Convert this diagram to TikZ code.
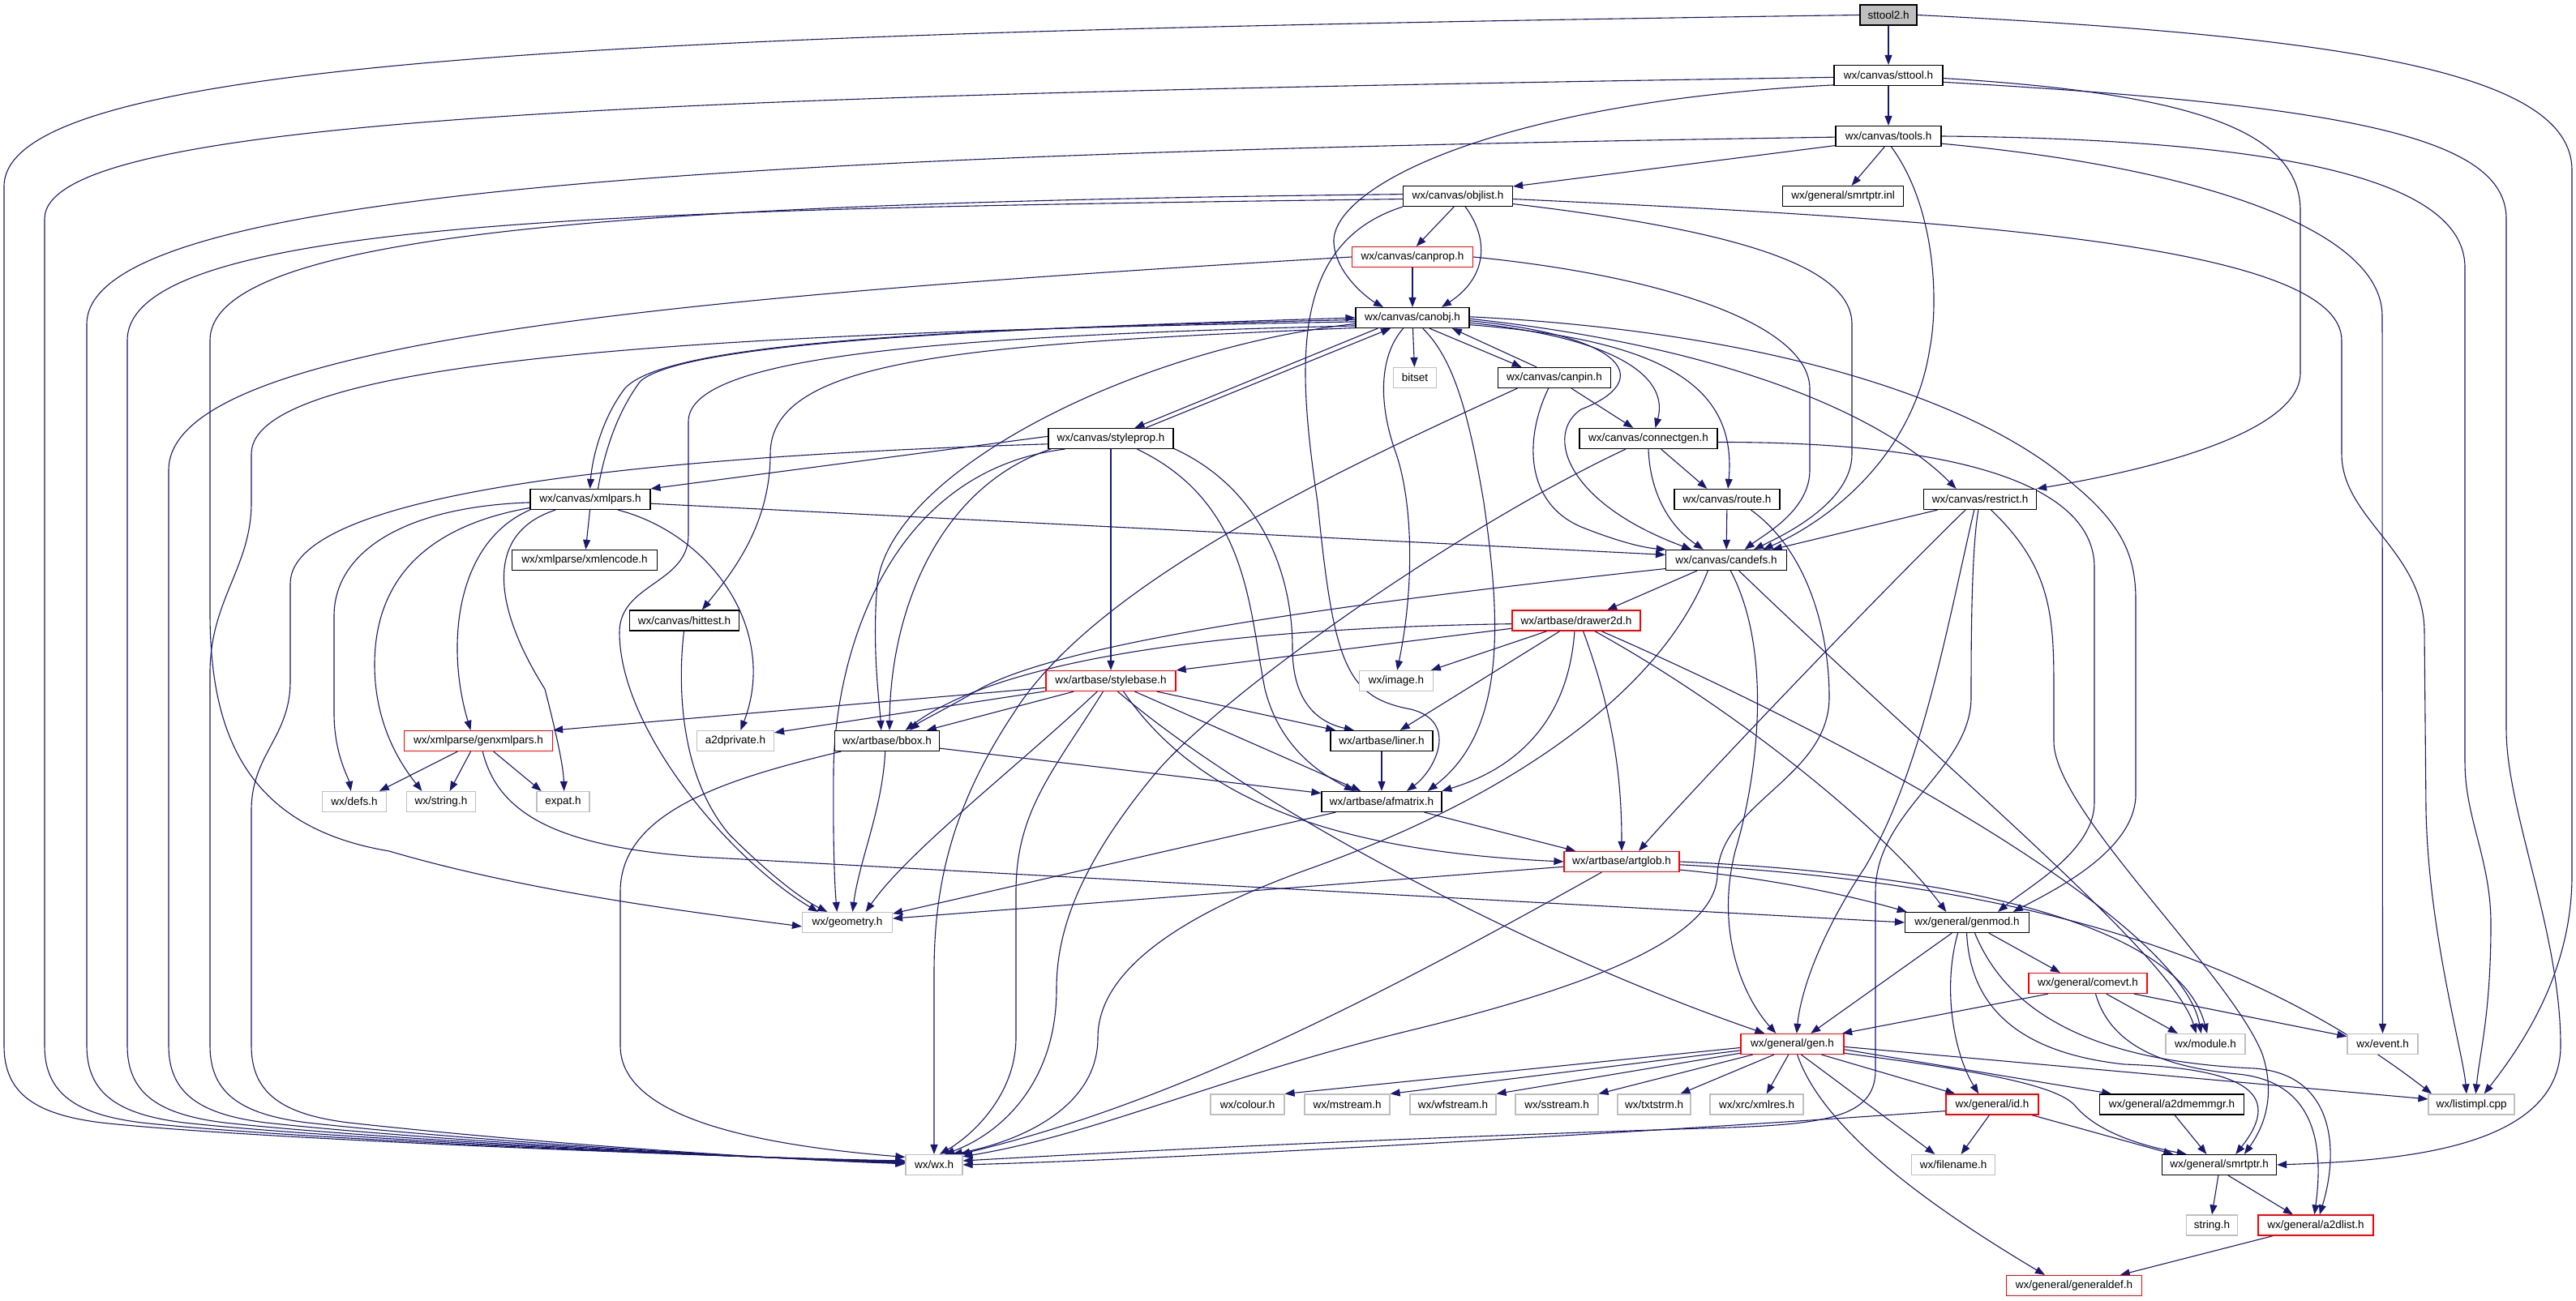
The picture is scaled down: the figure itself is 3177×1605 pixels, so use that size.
\documentclass[tikz,border=0pt]{standalone}
\usepackage{fontspec}
\setmainfont{Liberation Sans}
\usetikzlibrary{arrows.meta,backgrounds}
\definecolor{ec}{HTML}{191970}
\definecolor{gr}{HTML}{BFBFBF}
\newcommand\labfont{\fontsize{13.5}{16}\selectfont}
\begin{document}
\begin{tikzpicture}[x=1pt,y=-1pt,
  nd/.style={draw=black, line width=1.2pt, fill=white, minimum height=25pt, inner sep=0pt, font=\labfont},
  nr/.style={nd, draw=red},
  ng/.style={nd, draw=gr},
  e/.style={draw=ec, line width=1.1pt, -{Triangle[length=12pt,width=9pt]}}]
\useasboundingbox (0,0) rectangle (3177,1605);
% nodes
\node[nd,fill=gr,minimum width=70pt] (sttooltwo) at (2329,18.5) {sttool2.h};
\node[nd,minimum width=134pt] (sttool) at (2329,93) {wx/canvas/sttool.h};
\node[nd,minimum width=130pt] (tools) at (2329,168) {wx/canvas/tools.h};
\node[nd,minimum width=149pt] (smrtinl) at (2273,242) {wx/general/smrtptr.inl};
\node[nd,minimum width=135pt] (objlist) at (1798,242) {wx/canvas/objlist.h};
\node[nr,minimum width=149pt] (canprop) at (1742,317) {wx/canvas/canprop.h};
\node[nd,minimum width=140pt] (canobj) at (1742,392) {wx/canvas/canobj.h};
\node[ng,minimum width=53pt] (bitset) at (1745,466) {bitset};
\node[nd,minimum width=139pt] (canpin) at (1917,466) {wx/canvas/canpin.h};
\node[nd,minimum width=154pt] (styleprop) at (1370,541) {wx/canvas/styleprop.h};
\node[nd,minimum width=170pt] (connectgen) at (2033,541) {wx/canvas/connectgen.h};
\node[nd,minimum width=130pt] (route) at (2130,616) {wx/canvas/route.h};
\node[nd,minimum width=139pt] (restrict) at (2442,616) {wx/canvas/restrict.h};
\node[nd,minimum width=148pt] (xmlpars) at (728,616) {wx/canvas/xmlpars.h};
\node[nd,minimum width=149pt] (candefs) at (2129,691) {wx/canvas/candefs.h};
\node[nd,minimum width=179pt] (xmlencode) at (721,691) {wx/xmlparse/xmlencode.h};
\node[nd,minimum width=135pt] (hittest) at (844,765.5) {wx/canvas/hittest.h};
\node[nr,minimum width=158pt] (drawer2d) at (1944,765.5) {wx/artbase/drawer2d.h};
\node[nr,minimum width=160pt] (stylebase) at (1370,840) {wx/artbase/stylebase.h};
\node[ng,minimum width=91pt] (image) at (1722,840) {wx/image.h};
\node[nr,minimum width=183pt] (genxmlpars) at (590,914) {wx/xmlparse/genxmlpars.h};
\node[ng,minimum width=95pt] (a2dprivate) at (907,914) {a2dprivate.h};
\node[nd,minimum width=129pt] (bbox) at (1094,914) {wx/artbase/bbox.h};
\node[nd,minimum width=126pt] (liner) at (1704,914) {wx/artbase/liner.h};
\node[ng,minimum width=79pt] (defs) at (437,989) {wx/defs.h};
\node[ng,minimum width=85pt] (wxstring) at (544,989) {wx/string.h};
\node[ng,minimum width=65pt] (expat) at (694.5,989) {expat.h};
\node[nd,minimum width=148pt] (afmatrix) at (1704,989) {wx/artbase/afmatrix.h};
\node[nr,minimum width=142pt] (artglob) at (2000,1063) {wx/artbase/artglob.h};
\node[ng,minimum width=111pt] (geometry) at (1045,1138) {wx/geometry.h};
\node[nd,minimum width=153pt] (genmod) at (2426,1138) {wx/general/genmod.h};
\node[nr,minimum width=146pt] (comevt) at (2575,1213) {wx/general/comevt.h};
\node[nr,minimum width=127pt] (gen) at (2210.5,1288) {wx/general/gen.h};
\node[ng,minimum width=98pt] (module) at (2720,1288) {wx/module.h};
\node[ng,minimum width=87pt] (event) at (2938.5,1288) {wx/event.h};
\node[ng,minimum width=91pt] (colour) at (1538.5,1362.5) {wx/colour.h};
\node[ng,minimum width=105pt] (mstream) at (1661.5,1362.5) {wx/mstream.h};
\node[ng,minimum width=106pt] (wfstream) at (1792,1362.5) {wx/wfstream.h};
\node[ng,minimum width=102pt] (sstream) at (1920,1362.5) {wx/sstream.h};
\node[ng,minimum width=90pt] (txtstrm) at (2040,1362.5) {wx/txtstrm.h};
\node[ng,minimum width=115pt] (xmlres) at (2166.5,1362.5) {wx/xrc/xmlres.h};
\node[nr,minimum width=114pt] (id) at (2457,1362.5) {wx/general/id.h};
\node[nd,minimum width=178pt] (a2dmemmgr) at (2678.5,1362.5) {wx/general/a2dmemmgr.h};
\node[ng,minimum width=106pt] (listimpl) at (3048,1362.5) {wx/listimpl.cpp};
\node[ng,minimum width=70pt] (wx) at (1152,1437) {wx/wx.h};
\node[ng,minimum width=103pt] (filename) at (2409,1437) {wx/filename.h};
\node[nd,minimum width=141pt] (smrtptr) at (2737,1437) {wx/general/smrtptr.h};
\node[ng,minimum width=63pt] (stringh) at (2728,1511.5) {string.h};
\node[nr,minimum width=142pt] (a2dlist) at (2856,1511.5) {wx/general/a2dlist.h};
\node[nr,minimum width=167pt] (generaldef) at (2558,1586) {wx/general/generaldef.h};

\begin{pgfonlayer}{background}
\fill[white] (0,0) rectangle (3177,1605);
% sttool2.h
\draw[e] (sttooltwo) -- (sttool);
\draw[e] (sttooltwo.180) .. controls (800,40) and (5,70) .. (5,230) -- (5,1290) .. controls (5,1350) and (45,1375) .. (125,1385) .. controls (305,1405) and (900,1428) .. (wx.172);
\draw[e] (sttooltwo.east) .. controls (2900,45) and (3172,90) .. (3172,210) -- (3172,1080) .. controls (3172,1200) and (3110,1290) .. (listimpl.40);
% sttool.h
\draw[e] (sttool) -- (tools);
\draw[e] (sttool.182) .. controls (800,118) and (55,145) .. (55,270) -- (55,1290) .. controls (55,1350) and (95,1375) .. (175,1385) .. controls (355,1405) and (900,1428) .. (wx.173);
\draw[e] (sttool.190) .. controls (1850,125) and (1640,230) .. (1645,300) .. controls (1648,340) and (1690,370) .. (canobj.160);
\draw[e] (sttool.-3) .. controls (2700,115) and (2837,160) .. (2837,260) -- (2837,460) .. controls (2837,540) and (2620,585) .. (restrict.north east);
\draw[e] (sttool.-7) .. controls (2900,130) and (3091,170) .. (3091,270) -- (3091,900) .. controls (3091,1000) and (3158,1150) .. (3158,1290) .. controls (3158,1420) and (2950,1432) .. (smrtptr.east);
% tools.h
\draw[e] (tools.190) -- (objlist.10);
\draw[e] (tools.-110) -- (smrtinl.51);
\draw[e] (tools.181) .. controls (900,190) and (107,235) .. (107,400) -- (107,1290) .. controls (107,1350) and (147,1375) .. (227,1385) .. controls (407,1405) and (900,1428) .. (wx.174);
\draw[e] (tools.-75) .. controls (2390,260) and (2390,380) .. (2380,430) .. controls (2360,560) and (2260,640) .. (candefs.16);
\draw[e] (tools.-8) .. controls (2700,205) and (2938,280) .. (2938,390) -- (event.north);
\draw[e] (tools.0) .. controls (2850,172) and (3040,230) .. (3040,330) -- (3040,940) .. controls (3040,1010) and (3072,1060) .. (3072,1140) .. controls (3072,1250) and (3058,1300) .. (listimpl.68);
% objlist.h
\draw[e] (objlist.-110) -- (canprop.70);
\draw[e] (objlist.-55) .. controls (1840,300) and (1830,345) .. (canobj.20);
\draw[e] (objlist.183) .. controls (800,258) and (157,268) .. (157,420) -- (157,1290) .. controls (157,1350) and (197,1375) .. (277,1385) .. controls (457,1405) and (900,1428) .. (wx.175);
\draw[e] (objlist.178) .. controls (800,250) and (259,285) .. (259,420) -- (259,760) .. controls (260,900) and (300,1020) .. (480,1050) .. controls (650,1100) and (850,1125) .. (geometry.185);
\draw[e] (objlist.south west) .. controls (1590,300) and (1600,450) .. (1625,620) .. controls (1645,820) and (1660,860) .. (1740,875) .. controls (1800,890) and (1770,950) .. (afmatrix.23);
\draw[e] (objlist.-8) .. controls (2150,285) and (2284,330) .. (2284,400) -- (2284,560) .. controls (2284,620) and (2200,660) .. (candefs.21);
\draw[e] (objlist.-3) .. controls (2400,270) and (2888,300) .. (2888,420) -- (2888,560) .. controls (2888,640) and (2990,680) .. (2990,780) -- (2992,1000) .. controls (2995,1150) and (3038,1300) .. (listimpl.115);
% canprop.h
\draw[e] (canprop) -- (canobj);
\draw[e] (canprop.west) .. controls (800,368) and (208,425) .. (208,580) -- (208,1290) .. controls (208,1350) and (248,1375) .. (328,1385) .. controls (508,1405) and (900,1428) .. (wx.176);
\draw[e] (canprop.east) .. controls (2050,340) and (2232,400) .. (2232,480) -- (2232,580) .. controls (2232,630) and (2175,660) .. (candefs.30);
% canobj.h
\draw[e] (canobj.-88) -- (bitset);
\draw[e] (canobj.-32) -- (canpin.162);
\draw[e] (canobj.182) .. controls (1200,405) and (820,420) .. (770,480) .. controls (740,520) and (730,570) .. (xmlpars.92);
\draw[e] (canobj.184) .. controls (900,410) and (310,440) .. (310,560) -- (310,620) .. controls (310,700) and (259,740) .. (259,830) -- (259,1290) .. controls (259,1350) and (299,1375) .. (379,1385) .. controls (559,1405) and (900,1428) .. (wx.177);
\draw[e] (canobj.186) .. controls (1400,430) and (1100,580) .. (1082,720) .. controls (1075,800) and (1085,870) .. (bbox.119);
\draw[e] (canobj.188) .. controls (1150,415) and (849,440) .. (849,520) -- (849,660) .. controls (849,720) and (764,720) .. (764,780) .. controls (764,900) and (900,1060) .. (geometry.160);
\draw[e] (canobj.190) .. controls (1200,425) and (950,440) .. (950,560) .. controls (950,650) and (900,710) .. (hittest.31);
\draw[e] (canobj.-163) -- (styleprop.24);
\draw[e] (canobj.-131) .. controls (1700,440) and (1700,500) .. (1722,560) .. controls (1742,620) and (1745,720) .. (image.85);
\draw[e] (canobj.-46) .. controls (1790,440) and (1810,500) .. (1830,620) .. controls (1850,760) and (1860,900) .. (afmatrix.13);
\draw[e] (canobj.-5) .. controls (1980,415) and (2060,460) .. (connectgen.57);
\draw[e] (canobj.-3) .. controls (2010,415) and (2040,470) .. (1950,505) .. controls (1905,535) and (1930,620) .. (candefs.163);
\draw[e] (canobj.-7) .. controls (2060,420) and (2142,480) .. (route.85);
\draw[e] (canobj.-1) .. controls (2150,430) and (2330,520) .. (restrict.156);
\draw[e] (canobj.1) .. controls (2200,410) and (2450,500) .. (2560,600) .. controls (2620,650) and (2634,690) .. (2634,740) -- (2634,980) .. controls (2634,1050) and (2530,1100) .. (genmod.13);
% canpin.h
\draw[e] (canpin.149) -- (canobj.-15);
\draw[e] (canpin.-32) -- (connectgen.145);
\draw[e] (canpin.-119) .. controls (1880,540) and (1880,620) .. (1950,650) .. controls (2000,670) and (2030,676) .. (candefs.170);
\draw[e] (canpin.-164) .. controls (1650,580) and (1350,720) .. (1250,880) .. controls (1170,1000) and (1152,1100) .. (1152,1200) -- (wx.north);
% styleprop.h
\draw[e] (styleprop.17) -- (canobj.-154);
\draw[e] (styleprop.178) -- (xmlpars.north east);
\draw[e] (styleprop.185) .. controls (900,560) and (358,595) .. (358,720) -- (358,840) .. controls (358,910) and (310,930) .. (310,1000) -- (310,1290) .. controls (310,1350) and (350,1375) .. (430,1385) .. controls (610,1405) and (900,1428) .. (wx.178);
\draw[e] (styleprop.-170) .. controls (1160,600) and (1098,750) .. (bbox.77);
\draw[e] (styleprop.-167) .. controls (1100,580) and (1030,800) .. (1028,950) .. controls (1027,1050) and (1030,1100) .. (geometry.134);
\draw[e] (styleprop) -- (stylebase);
\draw[e] (styleprop.-22) .. controls (1540,620) and (1540,750) .. (1560,850) .. controls (1580,930) and (1640,960) .. (afmatrix.159);
\draw[e] (styleprop.-9) .. controls (1550,600) and (1594,700) .. (1594,800) .. controls (1594,860) and (1620,890) .. (liner.159);
% xmlpars.h
\draw[e] (xmlpars.54) .. controls (745,560) and (760,510) .. (790,470) .. controls (850,420) and (1250,405) .. (canobj.west);
\draw[e] (xmlpars.-92) -- (xmlencode);
\draw[e] (xmlpars.south west) .. controls (560,670) and (550,800) .. (genxmlpars.126);
\draw[e] (xmlpars.183) .. controls (500,625) and (412,680) .. (412,760) -- (412,880) .. controls (412,930) and (430,960) .. (defs.108);
\draw[e] (xmlpars.188) .. controls (520,650) and (462,720) .. (462,820) .. controls (462,900) and (500,950) .. (wxstring.151);
\draw[e] (xmlpars.-163) .. controls (590,660) and (615,760) .. (672,850) .. controls (690,920) and (695,950) .. (expat.85);
\draw[e] (xmlpars.-21) .. controls (880,660) and (960,780) .. (a2dprivate.64);
\draw[e] (xmlpars.-4) -- (candefs.175);
% hittest.h
\draw[e] (hittest.-92) .. controls (835,850) and (840,960) .. (900,1030) .. controls (950,1080) and (990,1110) .. (geometry.152);
% connectgen.h
\draw[e] (connectgen.-40) -- (route.152);
\draw[e] (connectgen.-90) .. controls (2035,610) and (2060,650) .. (candefs.155);
\draw[e] (connectgen.-155) .. controls (1800,650) and (1500,860) .. (1420,960) .. controls (1330,1070) and (1303,1150) .. (1303,1220) .. controls (1303,1340) and (1230,1400) .. (wx.45);
\draw[e] (connectgen.-3) .. controls (2420,545) and (2583,600) .. (2583,700) -- (2583,990) .. controls (2583,1050) and (2500,1095) .. (genmod.19);
% route.h
\draw[e] (route) -- (candefs);
\draw[e] (route.-24) .. controls (2230,680) and (2256,780) .. (2256,860) .. controls (2256,960) and (2120,990) .. (2118,1080) .. controls (2115,1160) and (1950,1220) .. (1736,1272) .. controls (1500,1330) and (1350,1400) .. (wx.16);
% restrict.h
\draw[e] (restrict.-166) -- (candefs.13);
\draw[e] (restrict.-144) .. controls (2330,720) and (2100,960) .. (artglob.32);
\draw[e] (restrict.-119) .. controls (2400,780) and (2370,950) .. (2300,1070) .. controls (2240,1160) and (2220,1230) .. (gen.68);
\draw[e] (restrict.-99) .. controls (2431,680) and (2431,800) .. (2431,860) .. controls (2431,950) and (2313,1000) .. (2313,1100) -- (2313,1320) .. controls (2313,1380) and (2250,1388) .. (2100,1392) .. controls (1700,1405) and (1400,1420) .. (wx.8);
\draw[e] (restrict.-44) .. controls (2530,700) and (2533,760) .. (2533,850) -- (2533,915) .. controls (2533,1000) and (2750,1200) .. (2790,1300) .. controls (2810,1360) and (2785,1400) .. (smrtptr.23);
% candefs.h
\draw[e] (candefs.-160) -- (drawer2d.19);
\draw[e] (candefs.188) .. controls (1700,740) and (1300,790) .. (1200,855) .. controls (1160,878) and (1135,890) .. (bbox.25);
\draw[e] (candefs.-68) .. controls (2185,800) and (2170,950) .. (2140,1050) .. controls (2115,1150) and (2150,1230) .. (gen.147);
\draw[e] (candefs.-40) .. controls (2400,950) and (2680,1180) .. (module.131);
\draw[e] (candefs.-150) .. controls (2050,850) and (1870,980) .. (1620,1070) .. controls (1450,1130) and (1354,1200) .. (1354,1280) .. controls (1354,1370) and (1250,1410) .. (wx.30);
% drawer2d.h
\draw[e] (drawer2d.187) -- (stylebase.north east);
\draw[e] (drawer2d.183) .. controls (1500,775) and (1230,815) .. (bbox.30);
\draw[e] (drawer2d.-160) -- (image.17);
\draw[e] (drawer2d.-147) -- (liner.30);
\draw[e] (drawer2d.-99) .. controls (1935,880) and (1880,945) .. (afmatrix.10);
\draw[e] (drawer2d.-57) .. controls (1990,880) and (2000,960) .. (artglob.90);
\draw[e] (drawer2d.-30) .. controls (2150,880) and (2330,1030) .. (genmod.153);
\draw[e] (drawer2d.-23) .. controls (2300,920) and (2690,1140) .. (module.112);
% stylebase.h
\draw[e] (stylebase.186) -- (genxmlpars.north east);
\draw[e] (stylebase.189) -- (a2dprivate.12);
\draw[e] (stylebase.-164) -- (bbox.15);
\draw[e] (stylebase.-13) -- (liner.167);
\draw[e] (stylebase.-24) -- (afmatrix.153);
\draw[e] (stylebase.-40) .. controls (1480,990) and (1650,1050) .. (artglob.west);
\draw[e] (stylebase.-57) .. controls (1550,1000) and (1900,1180) .. (gen.159);
\draw[e] (stylebase.-142) .. controls (1250,950) and (1120,1050) .. (geometry.30);
\draw[e] (stylebase.-126) .. controls (1300,950) and (1253,1000) .. (1253,1100) -- (1253,1280) .. controls (1253,1350) and (1200,1400) .. (wx.62);
% bbox.h
\draw[e] (bbox.-8) -- (afmatrix.172);
\draw[e] (bbox.-100) .. controls (1088,1000) and (1060,1060) .. (geometry.64);
\draw[e] (bbox.-167) .. controls (900,960) and (765,1000) .. (765,1100) -- (765,1290) .. controls (765,1370) and (900,1410) .. (wx.165);
% liner.h, afmatrix.h
\draw[e] (liner) -- (afmatrix);
\draw[e] (afmatrix.-14) -- (artglob.167);
\draw[e] (afmatrix.-167) -- (geometry.11);
% artglob.h
\draw[e] (artglob.-175) -- (geometry.5);
\draw[e] (artglob.-152) .. controls (1700,1230) and (1450,1360) .. (wx.22);
\draw[e] (artglob.-8) .. controls (2200,1085) and (2300,1110) .. (genmod.170);
\draw[e] (artglob.0) .. controls (2450,1080) and (2690,1150) .. (module.81);
\draw[e] (artglob.-3) .. controls (2500,1090) and (2780,1180) .. (listimpl.165);
% genxmlpars.h
\draw[e] (genxmlpars.-153) -- (defs.23);
\draw[e] (genxmlpars.-126) -- (wxstring.51);
\draw[e] (genxmlpars.-35) -- (expat.154);
\draw[e] (genxmlpars.-68) .. controls (615,1010) and (700,1045) .. (860,1057) -- (genmod.west);
% genmod.h
\draw[e] (genmod.-26) -- (comevt.159);
\draw[e] (genmod.-145) -- (gen.30);
\draw[e] (genmod.-131) .. controls (2395,1220) and (2410,1300) .. (id.142);
\draw[e] (genmod.-92) .. controls (2430,1250) and (2500,1300) .. (2620,1313) .. controls (2760,1318) and (2820,1345) .. (smrtptr.33);
\draw[e] (genmod.-54) .. controls (2480,1260) and (2600,1310) .. (2780,1318) .. controls (2880,1325) and (2885,1420) .. (a2dlist.70);
% comevt.h
\draw[e] (comevt.-165) -- (gen.12);
\draw[e] (comevt.-30) -- (module.159);
\draw[e] (comevt.-13) -- (event.168);
\draw[e] (comevt.-54) .. controls (2600,1280) and (2650,1315) .. (2760,1325) .. controls (2860,1335) and (2865,1420) .. (a2dlist.97);
% gen.h
\draw[e] (gen.184) -- (colour.north east);
\draw[e] (gen.187) -- (mstream.north east);
\draw[e] (gen.190) -- (wfstream.north east);
\draw[e] (gen.-165) -- (sstream.north east);
\draw[e] (gen.-150) -- (txtstrm.22);
\draw[e] (gen.-110) -- (xmlres.47);
\draw[e] (gen.-20) -- (id.164);
\draw[e] (gen.-50) -- (filename.150);
\draw[e] (gen.-65) .. controls (2250,1400) and (2400,1500) .. (generaldef.160);
\draw[e] (gen.-6) -- (a2dmemmgr.170);
\draw[e] (gen.-10) .. controls (2450,1322) and (2540,1340) .. (2560,1365) .. controls (2590,1400) and (2650,1415) .. (smrtptr.162);
\draw[e] (gen.-3) -- (listimpl.173);
% id.h
\draw[e] (id.-105) -- (filename.54);
\draw[e] (id.-15) -- (smrtptr.167);
\draw[e] (id.-172) .. controls (2100,1392) and (1500,1428) .. (wx.0);
% rest
\draw[e] (a2dmemmgr.-75) -- (smrtptr.140);
\draw[e] (smrtptr.-95) -- (stringh.north);
\draw[e] (smrtptr.-50) -- (a2dlist.155);
\draw[e] (a2dlist.-166) -- (generaldef.13);
\end{pgfonlayer}
\end{tikzpicture}
\end{document}
